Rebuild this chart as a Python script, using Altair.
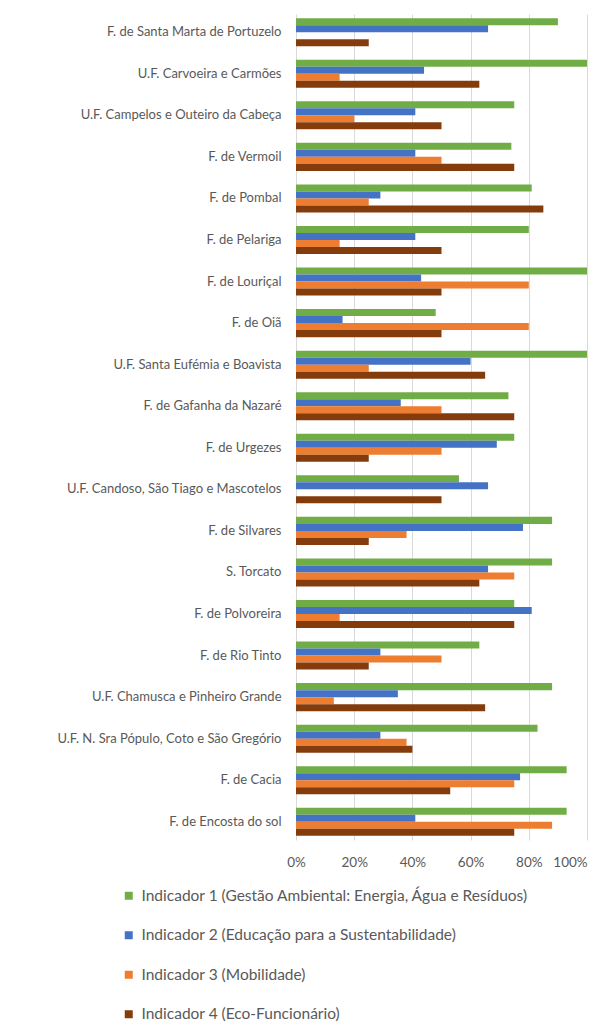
import altair as alt
import pandas as pd

categories = [
    "F. de Santa Marta de Portuzelo",
    "U.F. Carvoeira e Carmões",
    "U.F. Campelos e Outeiro da Cabeça",
    "F. de Vermoil",
    "F. de Pombal",
    "F. de Pelariga",
    "F. de Louriçal",
    "F. de Oiã",
    "U.F. Santa Eufémia e Boavista",
    "F. de Gafanha da Nazaré",
    "F. de Urgezes",
    "U.F. Candoso, São Tiago e Mascotelos",
    "F. de Silvares",
    "S. Torcato",
    "F. de Polvoreira",
    "F. de Rio Tinto",
    "U.F. Chamusca e Pinheiro Grande",
    "U.F. N. Sra Pópulo, Coto  e São Gregório",
    "F. de Cacia",
    "F. de Encosta do sol",
]

indicators = [
    "Indicador 1 (Gestão Ambiental: Energia, Água e Resíduos)",
    "Indicador 2 (Educação para a Sustentabilidade)",
    "Indicador 3 (Mobilidade)",
    "Indicador 4 (Eco-Funcionário)",
]

ind1 = [0.90, 1.00, 0.75, 0.74, 0.81, 0.80, 1.00, 0.48, 1.00, 0.73,
        0.75, 0.56, 0.88, 0.88, 0.75, 0.63, 0.88, 0.83, 0.93, 0.93]
ind2 = [0.66, 0.44, 0.41, 0.41, 0.29, 0.41, 0.43, 0.16, 0.60, 0.36,
        0.69, 0.66, 0.78, 0.66, 0.81, 0.29, 0.35, 0.29, 0.77, 0.41]
ind3 = [0.00, 0.15, 0.20, 0.50, 0.25, 0.15, 0.80, 0.80, 0.25, 0.50,
        0.50, 0.00, 0.38, 0.75, 0.15, 0.50, 0.13, 0.38, 0.75, 0.88]
ind4 = [0.25, 0.63, 0.50, 0.75, 0.85, 0.50, 0.50, 0.50, 0.65, 0.75,
        0.25, 0.50, 0.25, 0.63, 0.75, 0.25, 0.65, 0.40, 0.53, 0.75]

colors = ["#70AD47", "#4472C4", "#ED7D31", "#843C0C"]

rows = []
for name, vals in zip(indicators, [ind1, ind2, ind3, ind4]):
    for cat, v in zip(categories, vals):
        rows.append({"cat": cat, "indicator": name, "value": v})
df = pd.DataFrame(rows)

chart = alt.Chart(df).mark_bar().encode(
    y=alt.Y("cat:N", sort=categories, title=None,
            scale=alt.Scale(paddingInner=0.325, paddingOuter=0.1),
            axis=alt.Axis(domain=False, ticks=False, labelPadding=15,
                          labelFontSize=13, labelColor="#595959", grid=False,
                          labelLimit=300)),
    yOffset=alt.YOffset("indicator:N", sort=indicators,
                        scale=alt.Scale(paddingInner=0, paddingOuter=0)),
    x=alt.X("value:Q", title=None,
            scale=alt.Scale(domain=[0, 1], nice=False),
            axis=alt.Axis(format=".0%", values=[0, 0.2, 0.4, 0.6, 0.8, 1.0],
                          domain=False, ticks=False, grid=True,
                          gridColor="#d9d9d9", gridWidth=1, labelFlush=False,
                          labelOffset={"expr": "datum.value >= 1 ? -17 : 0"},
                          labelFontSize=13.5, labelColor="#595959", labelPadding=15)),
    color=alt.Color("indicator:N", sort=indicators,
                    scale=alt.Scale(domain=indicators, range=colors),
                    legend=alt.Legend(title=None, orient="none", legendX=-175, legendY=874,
                                      symbolType="square", symbolSize=64,
                                      symbolStrokeWidth=0,
                                      labelFontSize=15.5, labelColor="#595959",
                                      labelOffset=5, rowPadding=22.5, labelLimit=500)),
).properties(
    width=291,
    height=826,
    autosize=alt.AutoSizeParams(type="none"),
    padding={"left": 288, "top": 6, "right": 3, "bottom": 184},
).configure(
    font="Lato",
).configure_view(
    stroke=None,
)

chart.save("out.html", embed_options={"renderer": "svg", "actions": False})
